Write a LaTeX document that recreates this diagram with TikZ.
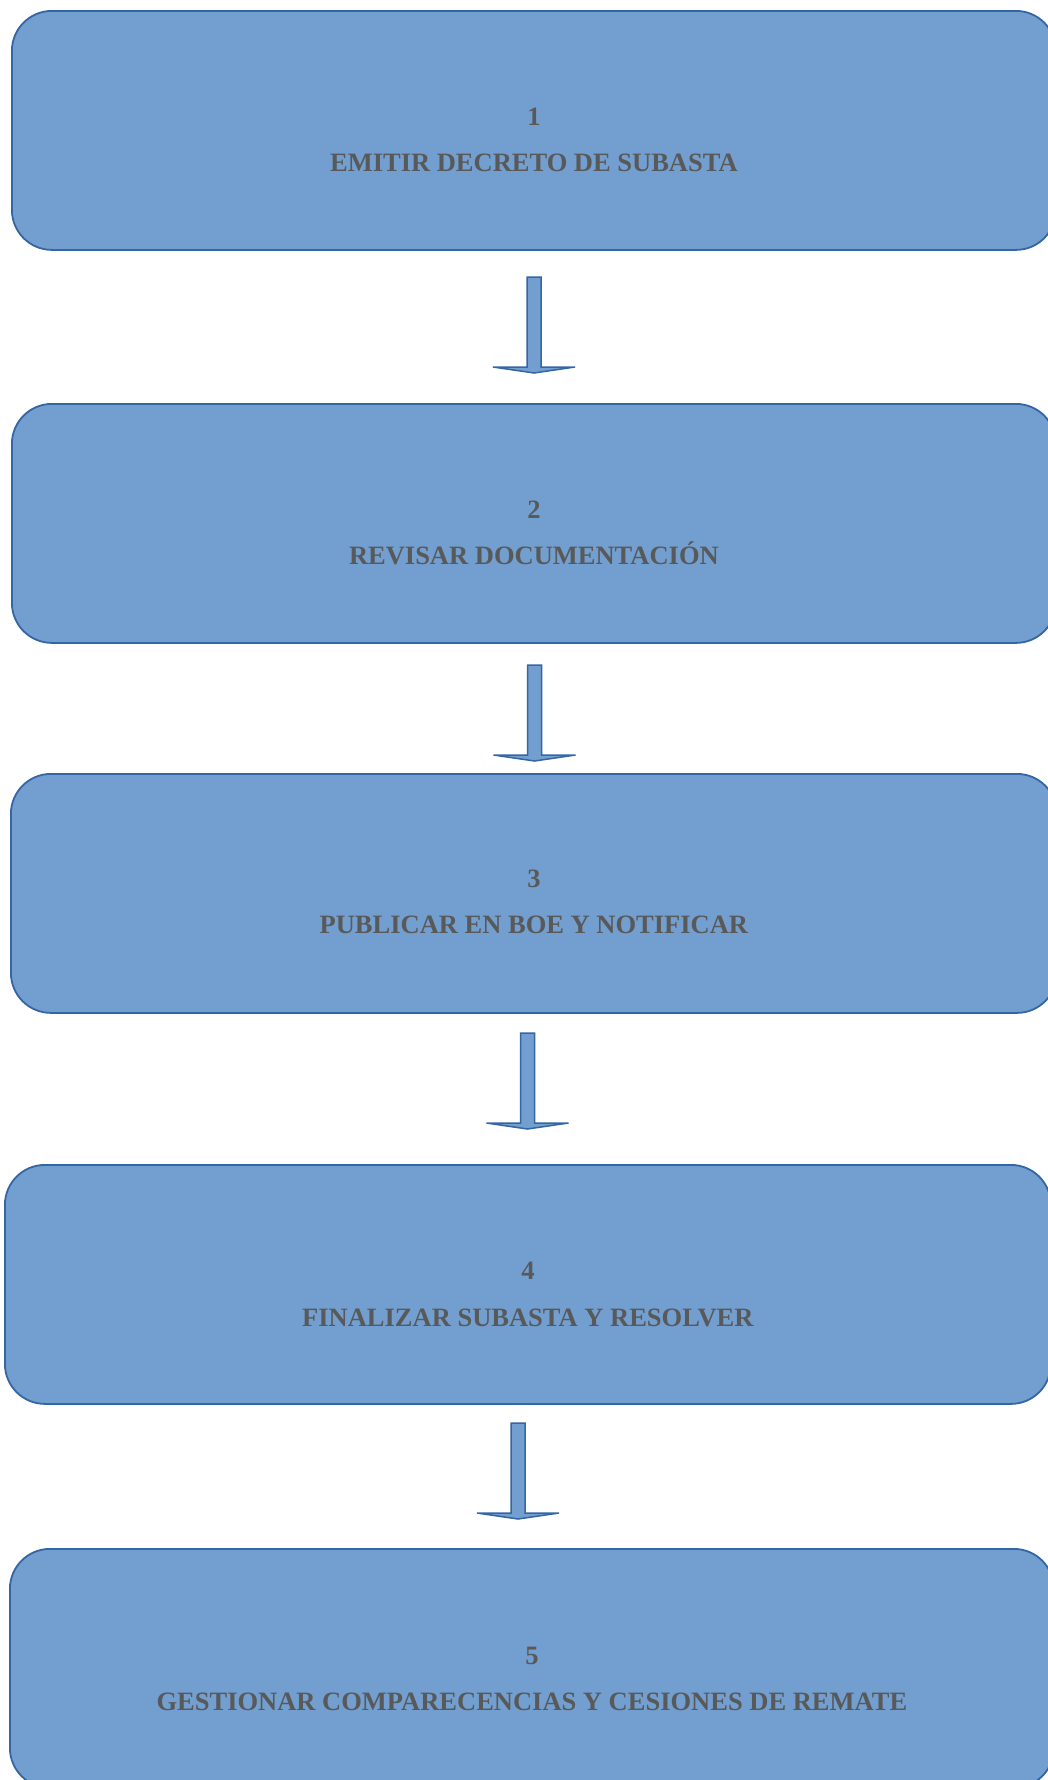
\documentclass[tikz,border=0pt]{standalone}
\usepackage{fontspec}
\setmainfont{Liberation Serif}
\usetikzlibrary{calc}
\definecolor{boxfill}{HTML}{729FCF}
\definecolor{boxline}{HTML}{3465A4}
\definecolor{txtgrey}{HTML}{595959}
\tikzset{
  stepbox/.style={draw=boxline, fill=boxfill, line width=1.8pt, rounded corners=40pt,
    rectangle, inner sep=0pt, minimum width=1044pt, minimum height=239pt, anchor=north west},
  numtxt/.style={text=txtgrey, font=\bfseries\fontsize{26.5}{30}\selectfont, anchor=base, inner sep=0pt},
  labtxt/.style={text=txtgrey, font=\bfseries\fontsize{26.5}{30}\selectfont, anchor=base, inner sep=0pt},
  blockarr/.style={draw=boxline, fill=boxfill, line width=1.5pt, line join=miter}
}
\newcommand{\myblockarrow}[2]{%
  \draw[blockarr] let \p1=(#1), \p2=(#2) in
    (\x1-7pt,\y1) -- (\x1-7pt,\y2+6pt) -- (\x1-41pt,\y2+6pt) -- (\x1,\y2)
    -- (\x1+41pt,\y2+6pt) -- (\x1+7pt,\y2+6pt) -- (\x1+7pt,\y1) -- cycle;}
\begin{document}
\begin{tikzpicture}[x=1pt,y=-1pt]
\useasboundingbox (0,0) rectangle (1048,1780);
% boxes
\node[stepbox] (b1) at (11,10) {};
\node[stepbox] (b2) at (11,403) {};
\node[stepbox, minimum width=1046pt] (b3) at (10,773) {};
\node[stepbox, minimum width=1046pt] (b4) at (4,1164) {};
\node[stepbox] (b5) at (9,1548) {};
% texts
\node[numtxt] (n1) at ($(b1.north)+(0,115)$) {1};
\node[labtxt] (l1) at ($(b1.north)+(0,161)$) {EMITIR DECRETO DE SUBASTA};
\node[numtxt] (n2) at ($(b2.north)+(0,115)$) {2};
\node[labtxt] (l2) at ($(b2.north)+(0,161)$) {REVISAR DOCUMENTACIÓN};
\node[numtxt] (n3) at ($(b3.north)+(0,114)$) {3};
\node[labtxt] (l3) at ($(b3.north)+(0,160)$) {PUBLICAR EN BOE Y NOTIFICAR};
\node[numtxt] (n4) at ($(b4.north)+(0,115)$) {4};
\node[labtxt] (l4) at ($(b4.north)+(0,162)$) {FINALIZAR SUBASTA Y RESOLVER};
\node[numtxt] (n5) at ($(b5.north)+(0,116)$) {5};
\node[labtxt] (l5) at ($(b5.north)+(0,162)$) {GESTIONAR COMPARECENCIAS Y CESIONES DE REMATE};
% arrows
\coordinate (a1s) at (534,277);   \coordinate (a1e) at (534,373);
\coordinate (a2s) at (534.5,665); \coordinate (a2e) at (534.5,761);
\coordinate (a3s) at (527.5,1033);\coordinate (a3e) at (527.5,1129);
\coordinate (a4s) at (518,1423);  \coordinate (a4e) at (518,1519);
\myblockarrow{a1s}{a1e}
\myblockarrow{a2s}{a2e}
\myblockarrow{a3s}{a3e}
\myblockarrow{a4s}{a4e}
\end{tikzpicture}
\end{document}
